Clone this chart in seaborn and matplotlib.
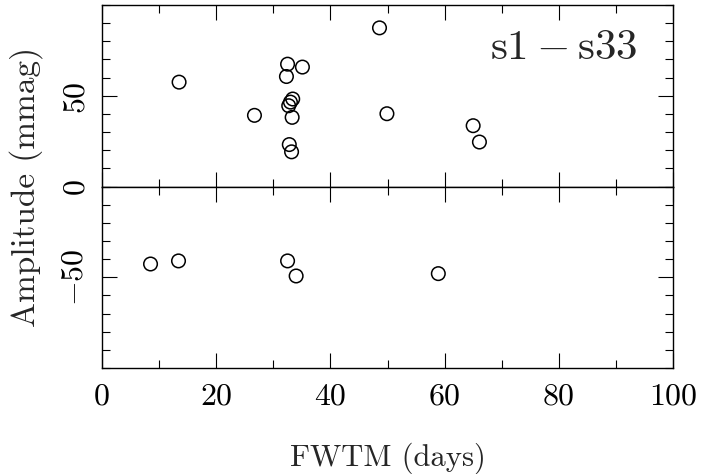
import matplotlib
matplotlib.use("Agg")
import matplotlib.pyplot as plt
import seaborn as sns
import pandas as pd
from matplotlib.ticker import MultipleLocator

# ---- data ----
fwtm = [13.5, 26.7, 32.5, 35.1, 32.3, 33.4, 33.0, 32.7, 33.3, 32.8, 33.2,
        48.6, 49.9, 65.0, 66.1,
        8.5, 13.4, 32.5, 34.0, 58.9]
amplitude = [57.5, 39.2, 67.4, 65.8, 60.6, 48.2, 46.5, 44.5, 38.1, 23.1, 19.1,
             87.4, 40.1, 33.5, 24.5,
             -42.7, -41.0, -41.0, -49.3, -48.0]
panel_label = r"$\mathrm{s1-s33}$"
x_ticks = [0, 20, 40, 60, 80, 100]
x_ticklabels = ["0", "20", "40", "60", "80", "100"]
y_top_ticks = [0, 50]
y_top_ticklabels = ["0", "50"]
y_bot_ticks = [-50]
y_bot_ticklabels = [r"$-$50"]
x_label = "FWTM (days)"
y_label = "Amplitude (mmag)"

df = pd.DataFrame({"fwtm": fwtm, "amp": amplitude})
pos = df[df["amp"] > 0]
neg = df[df["amp"] < 0]

sns.set_style("ticks")
plt.rcParams["font.family"] = ["cmr10", "DejaVu Serif"]
plt.rcParams["mathtext.fontset"] = "cm"
plt.rcParams["axes.formatter.use_mathtext"] = True
plt.rcParams["axes.unicode_minus"] = False

W, H = 703, 474
fig = plt.figure(figsize=(W / 100, H / 100), dpi=100)
gs = fig.add_gridspec(2, 1, left=102 / W, right=673 / W,
                      top=1 - 5 / H, bottom=1 - 368 / H, hspace=0)
ax_top = fig.add_subplot(gs[0])
ax_bot = fig.add_subplot(gs[1], sharex=ax_top)

for ax, d in ((ax_top, pos), (ax_bot, neg)):
    sns.scatterplot(data=d, x="fwtm", y="amp", ax=ax, marker="o", s=95,
                    facecolor="none", edgecolor="black", linewidth=1.1,
                    legend=False, zorder=3)
    for coll in ax.collections:
        coll.set_facecolor("none")
        coll.set_edgecolor("black")
    ax.set_xlabel("")
    ax.set_ylabel("")
    for sp in ax.spines.values():
        sp.set_visible(True)
        sp.set_linewidth(1.0)
        sp.set_color("black")
    ax.tick_params(which="both", direction="in", top=True, bottom=True,
                   left=True, right=True, colors="black")
    ax.tick_params(which="major", length=10.8, width=0.8)
    ax.tick_params(which="minor", length=5.8, width=0.8)
    ax.xaxis.set_minor_locator(MultipleLocator(10))
    ax.yaxis.set_minor_locator(MultipleLocator(10))
    ax.grid(False)

ax_top.set_xlim(0, 100)
ax_top.set_ylim(0, 100)
ax_bot.set_ylim(-100, 0)

ax_bot.set_xticks(x_ticks)
ax_bot.set_xticklabels(x_ticklabels, fontsize=23)
ax_top.tick_params(labelbottom=False)
ax_bot.tick_params(axis="x", which="major", pad=10.5)

ax_top.set_yticks(y_top_ticks)
ax_top.set_yticklabels(y_top_ticklabels, rotation=90, va="center", fontsize=23)
ax_bot.set_yticks(y_bot_ticks)
ax_bot.set_yticklabels(y_bot_ticklabels, rotation=90, va="center", fontsize=23)
for ax in (ax_top, ax_bot):
    ax.tick_params(axis="y", which="major", pad=9.5)

ax_bot.set_xlabel(x_label, fontsize=22)
ax_bot.xaxis.set_label_coords(0.5, -0.41)
ax_top.set_ylabel(y_label, fontsize=24)
ax_top.yaxis.set_label_coords(-0.103, 0.0)

ax_top.text(93.7, 70.3, panel_label, fontsize=31, ha="right", va="baseline")

fig.savefig("out.png", dpi=100)
